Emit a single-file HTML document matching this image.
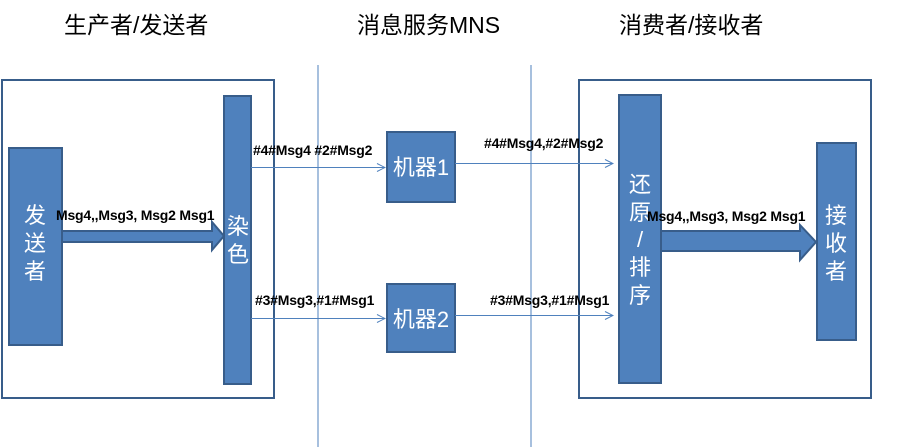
<!DOCTYPE html>
<html><head><meta charset="utf-8"><style>
body{margin:0;width:919px;height:447px;background:#fff;overflow:hidden;font-family:"Liberation Sans","Noto Sans CJK SC",sans-serif;}
.t{position:absolute;font-size:23px;color:#000;white-space:nowrap;line-height:1}
.l{position:absolute;font-size:14px;font-weight:bold;color:#000;white-space:nowrap;letter-spacing:-0.2px}
</style></head><body>
<div class="t" style="left:64px;top:14px">生产者/发送者</div>
<div class="t" style="left:357px;top:14px">消息服务MNS</div>
<div class="t" style="left:619px;top:14px">消费者/接收者</div>
<svg width="919" height="447" style="position:absolute;left:0;top:0">
<defs><marker id="a" markerWidth="10" markerHeight="10" refX="9" refY="5" orient="auto" markerUnits="userSpaceOnUse"><path d="M1,1 L9,5 L1,9" fill="none" stroke="#4f81bd" stroke-width="1"/></marker></defs>
<g fill="none" stroke="#385d8a" stroke-width="2">
<rect x="2" y="80" width="272" height="318"/>
<rect x="579" y="80" width="292" height="318"/>
</g>
<line x1="318" y1="65" x2="318" y2="447" stroke="#4f81bd"/>
<line x1="531" y1="65" x2="531" y2="447" stroke="#4f81bd"/>
<g fill="#4f81bd" stroke="#385d8a" stroke-width="2">
<rect x="9" y="148" width="53" height="197"/>
<rect x="224" y="96" width="27" height="288"/>
<rect x="387" y="132" width="68" height="70"/>
<rect x="387" y="284" width="68" height="68"/>
<rect x="619" y="95" width="42" height="288"/>
<rect x="817" y="143" width="39" height="197"/>
<path d="M62,231 L212,231 L212,222 L224,236 L212,250 L212,242 L62,242 Z"/>
<path d="M661,231 L800,231 L800,225 L816,242 L800,260 L800,251 L661,251 Z"/>
</g>
<g stroke="#4f81bd" stroke-width="1">
<line x1="251" y1="167.5" x2="385" y2="167.5" marker-end="url(#a)"/>
<line x1="251" y1="318.5" x2="385" y2="318.5" marker-end="url(#a)"/>
<line x1="455" y1="163.5" x2="613" y2="163.5" marker-end="url(#a)"/>
<line x1="455" y1="315.5" x2="613" y2="315.5" marker-end="url(#a)"/>
</g>
<g fill="#fff" font-family="Liberation Sans,Noto Sans CJK SC,sans-serif" font-size="22" text-anchor="middle">
<text x="35" y="223">发</text><text x="35" y="251">送</text><text x="35" y="279">者</text>
<text x="238" y="234">染</text><text x="238" y="262">色</text>
<text x="421" y="175">机器1</text><text x="421" y="327">机器2</text>
<text x="640" y="192">还</text><text x="640" y="220">原</text><text x="640" y="247">/</text><text x="640" y="275">排</text><text x="640" y="303">序</text>
<text x="836" y="223">接</text><text x="836" y="251">收</text><text x="836" y="279">者</text>
</g>
</svg>
<div class="l" style="left:56px;top:207px">Msg4,,Msg3, Msg2 Msg1</div>
<div class="l" style="left:253px;top:142px">#4#Msg4 #2#Msg2</div>
<div class="l" style="left:255px;top:292px">#3#Msg3,#1#Msg1</div>
<div class="l" style="left:484px;top:135px">#4#Msg4,#2#Msg2</div>
<div class="l" style="left:490px;top:292px">#3#Msg3,#1#Msg1</div>
<div class="l" style="left:647px;top:208px">Msg4,,Msg3, Msg2 Msg1</div>
</body></html>
